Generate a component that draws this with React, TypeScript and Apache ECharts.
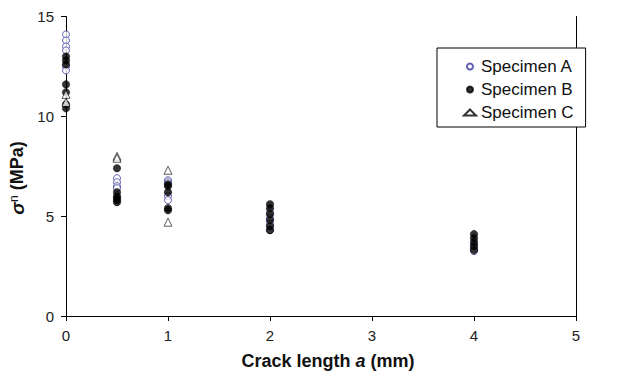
import React, { useEffect, useRef } from "react";
import * as echarts from "echarts";

const seriesNames = ["Specimen A", "Specimen B", "Specimen C"];
const xTicks = [0, 1, 2, 3, 4, 5];
const yTicks = [0, 5, 10, 15];

// [crack length a (mm), sigma_n (MPa)]
const specimenA: [number, number][] = [
  [0, 14.1], [0, 13.8], [0, 13.5], [0, 13.3], [0, 12.5], [0, 12.3],
  [0.5, 6.9], [0.5, 6.7], [0.5, 6.5], [0.5, 6.4],
  [1, 6.8], [1, 6.7], [1, 6.0], [1, 5.8],
  [2, 5.2], [2, 4.9], [2, 4.6], [2, 4.3],
  [4, 3.6], [4, 3.4], [4, 3.25],
];
const specimenB: [number, number][] = [
  [0, 13.0], [0, 12.8], [0, 12.6], [0, 11.6], [0, 11.2], [0, 10.6], [0, 10.4],
  [0.5, 7.4], [0.5, 6.2], [0.5, 6.0], [0.5, 5.9], [0.5, 5.8], [0.5, 5.7],
  [1, 6.6], [1, 6.5], [1, 6.2], [1, 5.4], [1, 5.3],
  [2, 5.6], [2, 5.4], [2, 5.1], [2, 4.8], [2, 4.5], [2, 4.3],
  [4, 4.1], [4, 3.9], [4, 3.7], [4, 3.5], [4, 3.3],
];
const specimenC: [number, number][] = [
  [0, 10.7], [0, 11.1],
  [0.5, 8.0], [0.5, 7.9],
  [1, 7.3], [1, 4.7],
];

const FONT = "'Liberation Sans', Arial, sans-serif";

export default function App() {
  const ref = useRef<HTMLDivElement>(null);
  useEffect(() => {
    if (!ref.current) return;
    const chart = echarts.init(ref.current, undefined, { renderer: "svg" });
    const axisLine = { show: true, lineStyle: { color: "#000", width: 1 } };
    chart.setOption({
      animation: false,
      backgroundColor: "#fff",
      textStyle: { fontFamily: FONT },
      grid: { left: 66, right: 49, top: 16.5, bottom: 56 },
      xAxis: {
        type: "value",
        min: xTicks[0],
        max: xTicks[xTicks.length - 1],
        interval: 1,
        axisLine,
        axisTick: { show: true, length: 5, lineStyle: { color: "#000" } },
        axisLabel: { fontSize: 15, color: "#222", margin: 12, fontFamily: FONT },
        splitLine: { show: false },
      },
      yAxis: [
        {
          type: "value",
          min: yTicks[0],
          max: yTicks[yTicks.length - 1],
          interval: 5,
          axisLine,
          axisTick: { show: true, length: 5, lineStyle: { color: "#000" } },
          axisLabel: { fontSize: 15, color: "#222", margin: 12, fontFamily: FONT },
          splitLine: { show: false },
        },
        {
          type: "value",
          position: "right",
          min: yTicks[0],
          max: yTicks[yTicks.length - 1],
          interval: 5,
          axisLine,
          axisTick: { show: false },
          axisLabel: { show: false },
          splitLine: { show: false },
        },
      ],
      legend: {
        orient: "vertical",
        left: 437,
        top: 48,
        padding: [10, 12, 6, 26],
        itemWidth: 12,
        itemHeight: 6,
        itemGap: 6,
        borderColor: "#000",
        borderWidth: 1,
        backgroundColor: "#fff",
        textStyle: { fontSize: 17, color: "#111", fontFamily: FONT },
        data: seriesNames,
      },
      series: [
        {
          name: seriesNames[0],
          type: "scatter",
          symbol: "circle",
          symbolSize: 7,
          itemStyle: { color: "#fff", borderColor: "#3a3a9e", borderWidth: 1 },
          data: specimenA,
        },
        {
          name: seriesNames[1],
          type: "scatter",
          symbol: "circle",
          symbolSize: 7.5,
          itemStyle: { color: "#000", borderColor: "#000", borderWidth: 0.5 },
          data: specimenB,
        },
        {
          name: seriesNames[2],
          type: "scatter",
          symbol: "triangle",
          symbolSize: 8,
          itemStyle: { color: "#fff", borderColor: "#000", borderWidth: 0.8 },
          data: specimenC,
        },
      ],
      graphic: [
        {
          type: "text",
          x: 328,
          y: 361,
          style: {
            text: "{b|Crack length }{i|a}{b| (mm)}",
            align: "center",
            verticalAlign: "middle",
            rich: {
              b: { fontSize: 18, fontWeight: "bold", fontFamily: FONT, fill: "#111" },
              i: { fontSize: 18, fontWeight: "bold", fontStyle: "italic", fontFamily: FONT, fill: "#111" },
            },
          },
        },
        {
          type: "text",
          x: 17,
          y: 178,
          rotation: Math.PI / 2,
          style: {
            text: "{s|σ}{n|n}{b| (MPa)}",
            align: "center",
            verticalAlign: "middle",
            rich: {
              s: { fontSize: 19, fontWeight: "bold", fontStyle: "italic", fontFamily: FONT, fill: "#111" },
              n: { fontSize: 12, fontFamily: FONT, fill: "#111", verticalAlign: "top" },
              b: { fontSize: 18, fontWeight: "bold", fontFamily: FONT, fill: "#111" },
            },
          },
        },
      ],
    });
    return () => chart.dispose();
  }, []);
  return <div ref={ref} style={{ width: 625, height: 372, position: "absolute", left: 0, top: 0 }} />;
}
